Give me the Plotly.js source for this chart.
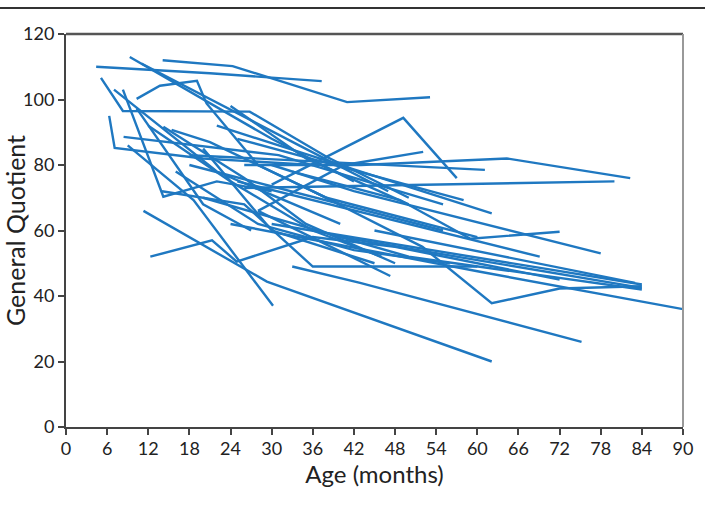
<!DOCTYPE html>
<html>
<head>
<meta charset="utf-8">
<script src="https://cdn.plot.ly/plotly-3.0.1.min.js"></script>
<style>html,body{margin:0;padding:0;background:#fff;}#chart{width:705px;height:512px;}</style>
</head>
<body>
<div id="chart"></div>
<script>
// Age (months) and General Quotient per child
const age01 = [4.4, 21, 37.3];            const gq01 = [110, 108, 105.6];
const age02 = [14.1, 24.3, 41, 53.1];     const gq02 = [112, 110.2, 99.2, 100.7];
const age03 = [9.3, 20, 30, 42];          const gq03 = [113, 100, 88, 75];
const age04 = [11, 22, 34, 47];           const gq04 = [111, 99, 86, 72];
const age05 = [10.3, 13.7, 19.1, 20.5, 28, 40]; const gq05 = [100.2, 104.2, 105.7, 98.8, 80, 68];
const age06 = [5.1, 8.3, 26.8, 38, 50];   const gq06 = [106.6, 96.5, 96.3, 82.5, 70];
const age07 = [6.3, 7.1, 20, 36];         const gq07 = [95, 85.2, 82, 80];
const age08 = [8.3, 14.2, 22, 30];        const gq08 = [103, 70.3, 75, 72];
const age09 = [10.3, 20, 27];             const gq09 = [97.3, 68, 60];
const age10 = [8.4, 31, 55];              const gq10 = [88.6, 83, 68];
const age11 = [14.2, 26, 35, 48];         const gq11 = [91.7, 76, 62, 50];
const age12 = [15.4, 21, 38, 60];         const gq12 = [90.7, 87, 70, 58];
const age13 = [11.3, 29.3, 62.1];         const gq13 = [66, 44.4, 20];
const age14 = [12.3, 21.3, 24.9, 36, 48, 72]; const gq14 = [52, 57, 50.5, 58, 55, 45];
const age15 = [9, 18.6, 30.2];            const gq15 = [86, 69.3, 37];
const age16 = [33, 42.9, 75.2];           const gq16 = [49, 44, 26];
const age17 = [33, 48.7, 59, 72];         const gq17 = [78, 69.3, 57.5, 59.6];
const age18 = [30, 42, 78];               const gq18 = [80, 72, 53];
const age19 = [25, 69.1];                 const gq19 = [75, 52];
const age20 = [36, 52, 62.1, 72, 84];     const gq20 = [72, 55, 37.8, 42.3, 43];
const age21 = [24, 60.4, 90];             const gq21 = [62, 47.4, 36];
const age22 = [30, 84];                   const gq22 = [62, 43.5];
const age23 = [40, 84];                   const gq23 = [58, 42.5];
const age24 = [45, 83];                   const gq24 = [60, 44];
const age25 = [20, 50, 84];               const gq25 = [70, 52, 42];
const age26 = [18, 55];                   const gq26 = [80, 60];
const age27 = [28, 47.3];                 const gq27 = [66, 46.1];
const age28 = [25, 58];                   const gq28 = [88, 69.3];
const age29 = [22, 62.1];                 const gq29 = [92, 65.2];
const age30 = [18, 61.1];                 const gq30 = [83, 78.5];
const age31 = [28, 40.6, 52.1];           const gq31 = [66, 80, 84];
const age32 = [30, 49.2, 57];             const gq32 = [74, 94.4, 76];
const age33 = [26, 43, 64.3, 82.3];       const gq33 = [80, 80, 82, 76];
const age34 = [26, 80];                   const gq34 = [73, 75];
const age35 = [12, 24, 36, 46];           const gq35 = [92, 75, 60, 52];
const age36 = [16, 28, 42, 56];           const gq36 = [78, 62, 54, 50];
const age37 = [20, 30, 45];               const gq37 = [85, 60, 50];
const age38 = [14, 26, 36, 60];           const gq38 = [72, 68, 49, 49];
const age39 = [24, 35, 50];               const gq39 = [98, 82, 68];
const age40 = [7, 22, 40];                const gq40 = [103, 78, 62];

const xTicks = [0, 6, 12, 18, 24, 30, 36, 42, 48, 54, 60, 66, 72, 78, 84, 90];
const yTicks = [0, 20, 40, 60, 80, 100, 120];

const ages = [age01,age02,age03,age04,age05,age06,age07,age08,age09,age10,
  age11,age12,age13,age14,age15,age16,age17,age18,age19,age20,
  age21,age22,age23,age24,age25,age26,age27,age28,age29,age30,
  age31,age32,age33,age34,age35,age36,age37,age38,age39,age40];
const gqs = [gq01,gq02,gq03,gq04,gq05,gq06,gq07,gq08,gq09,gq10,
  gq11,gq12,gq13,gq14,gq15,gq16,gq17,gq18,gq19,gq20,
  gq21,gq22,gq23,gq24,gq25,gq26,gq27,gq28,gq29,gq30,
  gq31,gq32,gq33,gq34,gq35,gq36,gq37,gq38,gq39,gq40];

const traces = ages.map((a, i) => ({
  x: a, y: gqs[i], type: 'scatter', mode: 'lines',
  line: {color: '#1f78c1', width: 2.4},
  hoverinfo: 'skip', showlegend: false
}));

const FONT = 'Lato, "Open Sans", sans-serif';
const layout = {
  width: 705, height: 512,
  margin: {l: 66, r: 22, t: 34, b: 85},
  paper_bgcolor: '#fff', plot_bgcolor: '#fff',
  font: {family: FONT, color: '#222'},
  xaxis: {
    range: [0, 90], tickvals: xTicks, ticktext: xTicks.map(String),
    showgrid: false, zeroline: false,
    showline: true, linecolor: '#444', linewidth: 2,
    ticks: 'outside', ticklen: 6, tickwidth: 2, tickcolor: '#444',
    ticklabelstandoff: -2,
    tickfont: {size: 18, family: FONT, color: '#222'},
    title: {text: 'Age (months)', font: {size: 24, family: FONT, color: '#222'}, standoff: 0}
  },
  yaxis: {
    range: [0, 120], tickvals: yTicks, ticktext: yTicks.map(String),
    showgrid: false, zeroline: false,
    showline: true, linecolor: '#444', linewidth: 2,
    ticks: 'outside', ticklen: 6, tickwidth: 2, tickcolor: '#444',
    tickfont: {size: 18, family: FONT, color: '#222'},
    title: {text: 'General Quotient', font: {size: 25, family: FONT, color: '#222'}, standoff: 4}
  },
  shapes: [
    {type: 'line', xref: 'paper', yref: 'paper', x0: 0, x1: 1, y0: 1, y1: 1,
     line: {color: '#555', width: 2.5}},
    {type: 'line', xref: 'paper', yref: 'paper', x0: 1, x1: 1, y0: 0, y1: 1,
     line: {color: '#999', width: 2}},
    {type: 'line', xref: 'paper', yref: 'paper', x0: -0.107, x1: 1.036, y0: 1.066, y1: 1.066,
     line: {color: '#333', width: 2}}
  ]
};

Plotly.newPlot('chart', traces, layout, {displayModeBar: false, staticPlot: true});
</script>
</body>
</html>
